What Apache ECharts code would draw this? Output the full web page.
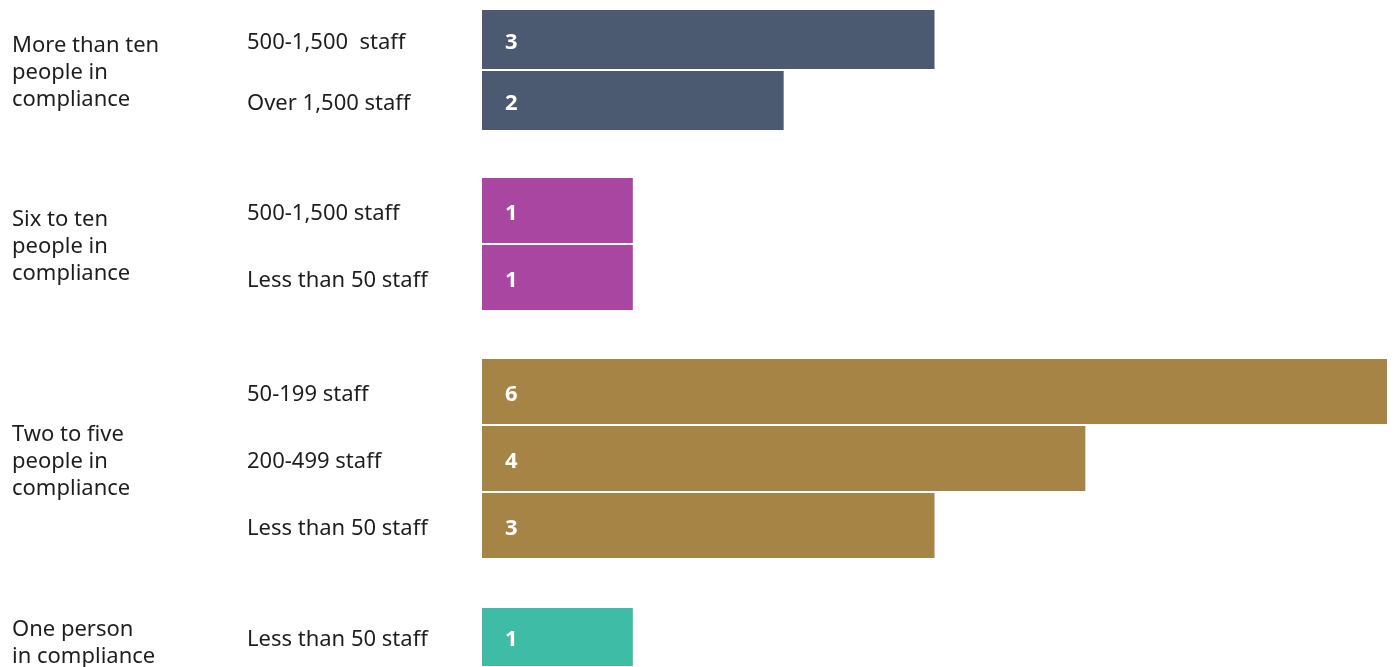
<!DOCTYPE html>
<html>
<head>
<meta charset="utf-8">
<script src="https://cdn.jsdelivr.net/npm/echarts@6/dist/echarts.min.js"></script>
<style>
  html, body { margin: 0; padding: 0; background: #ffffff; }
  #chart { width: 1394px; height: 667px; }
</style>
</head>
<body>
<div id="chart"></div>
<script>
// Compliance team size, broken down by organisation size
const groupNames = [
  'More than ten\npeople in\ncompliance',
  'Six to ten\npeople in\ncompliance',
  'Two to five\npeople in\ncompliance',
  'One person\nin compliance'
];
const groupCategories = [
  ['500-1,500  staff', 'Over 1,500 staff'],
  ['500-1,500 staff', 'Less than 50 staff'],
  ['50-199 staff', '200-499 staff', 'Less than 50 staff'],
  ['Less than 50 staff']
];
const groupValues = [
  [3, 2],
  [1, 1],
  [6, 4, 3],
  [1]
];
const groupColors = ['#4b5a70', '#a946a1', '#a68445', '#3ebca6'];

// Panel geometry (pixels) for each group
const panelTop = [9, 177, 358, 607];
const bandHeight = [61, 67, 67, 67];
const plotLeft = 482;
const plotWidth = 905;

const FONT = '"Noto Sans", "Open Sans", sans-serif';
const TEXT = '#1e1e1e';

const grids = [], xAxes = [], yAxes = [], series = [], graphics = [];
groupNames.forEach((name, i) => {
  const h = bandHeight[i] * groupCategories[i].length;
  grids.push({ left: plotLeft, top: panelTop[i], width: plotWidth, height: h });
  xAxes.push({
    type: 'value', gridIndex: i, min: 0, max: 6,
    show: false
  });
  yAxes.push({
    type: 'category', gridIndex: i, inverse: true,
    data: groupCategories[i],
    axisLine: { show: false }, axisTick: { show: false },
    axisLabel: {
      align: 'left', margin: plotLeft - 247,
      formatter: v => '{t|' + v + '}',
      rich: {
        t: { color: TEXT, fontFamily: FONT, fontSize: 22, padding: [6, 0, 0, 0] }
      }
    }
  });
  series.push({
    type: 'bar', xAxisIndex: i, yAxisIndex: i,
    data: groupValues[i],
    barCategoryGap: 2,
    itemStyle: { color: groupColors[i] },
    label: {
      show: true, position: 'insideLeft', distance: 23,
      offset: [0, 3],
      color: '#ffffff', fontFamily: FONT, fontSize: 22, fontWeight: 'bold'
    },
    silent: true
  });
  graphics.push({
    type: 'text', x: 12, y: panelTop[i] + h / 2 + 3,
    style: {
      text: name, fill: TEXT, font: '22px ' + FONT,
      lineHeight: 27, verticalAlign: 'middle', align: 'left'
    }
  });
});

const chart = echarts.init(document.getElementById('chart'));
chart.setOption({
  animation: false,
  grid: grids,
  xAxis: xAxes,
  yAxis: yAxes,
  series: series,
  graphic: graphics
});
</script>
</body>
</html>
